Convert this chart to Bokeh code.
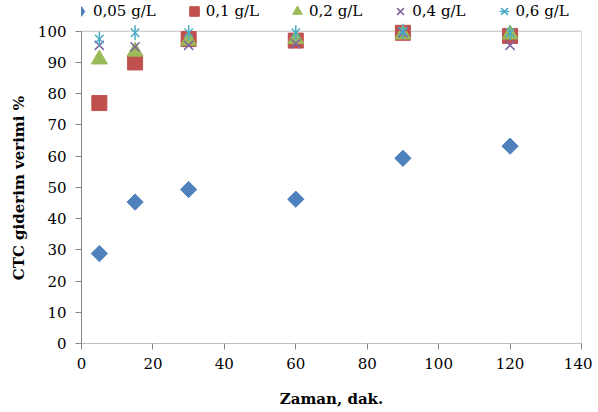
from bokeh.plotting import figure
from bokeh.models import Range1d, Legend, LegendItem, FixedTicker
from bokeh.embed import file_html
from bokeh.resources import INLINE
import math

time_min = [5, 15, 30, 60, 90, 120]
series_names = ["0,05 g/L", "0,1 g/L", "0,2 g/L", "0,4 g/L", "0,6 g/L"]
s005 = [28.8, 45.3, 49.3, 46.2, 59.3, 63.2]
s01 = [77.0, 90.0, 97.5, 97.0, 99.5, 98.5]
s02 = [91.0, 93.5, 97.0, 97.5, 99.0, 99.0]
s04 = [95.5, 95.0, 95.5, 96.0, 99.5, 95.5]
s06 = [97.5, 99.5, 99.5, 99.5, 100.0, 99.5]
x_ticks = [0, 20, 40, 60, 80, 100, 120, 140]
y_ticks = [0, 10, 20, 30, 40, 50, 60, 70, 80, 90, 100]
X_MIN, X_MAX = 0, 140
Y_MIN, Y_MAX = 0, 100

FONT = "DejaVu Serif"
BORDER = "#BFBFBF"
AXIS = "#868686"

# frame: left 81, right 581, bottom 346 (y=0), y=100 at 31; headroom above for the legend
W, H = 592, 410
top_pad = 1
y_top = Y_MAX * (346 - top_pad) / (346 - 31)

p = figure(width=W, height=H, output_backend="svg", toolbar_location=None,
           x_range=Range1d(X_MIN, X_MAX), y_range=Range1d(Y_MIN, y_top),
           min_border_left=81, min_border_right=W - 581, min_border_top=top_pad,
           min_border_bottom=H - 346)
p.xgrid.visible = False
p.ygrid.visible = False
p.outline_line_color = None

# plot-area border (top and right)
p.segment(x0=[X_MIN, X_MAX], y0=[Y_MAX, Y_MIN], x1=[X_MAX, X_MAX], y1=[Y_MAX, Y_MAX],
          line_color=BORDER, line_width=1)

r1 = p.scatter(time_min, s005, marker="square", size=11.5, angle=math.pi / 4,
               fill_color="#4F81BD", line_color="#4F81BD")
# legend key only (not drawn in the plot): a diamond shape for the legend swatch
r1_key = p.scatter(x=[float("nan")], y=[float("nan")], marker="diamond", size=14,
                   fill_color="#4F81BD", line_color="#4F81BD")
r2 = p.scatter(time_min, s01, marker="square", size=15, fill_color="#C0504D", line_color="#C0504D")
r3 = p.scatter(time_min, s02, marker="triangle", size=16, fill_color="#9BBB59", line_color="#9BBB59")
r4 = p.scatter(time_min, s04, marker="x", size=13, line_color="#8064A2", line_width=1.5)
r5a = p.scatter(time_min, s06, marker="x", size=12, line_color="#4BACC6", line_width=1.5)
r5b = p.scatter(time_min, s06, marker="dash", size=15, angle=math.pi / 2, line_color="#4BACC6", line_width=1.5)

legend = Legend(items=[
    LegendItem(label=series_names[0], renderers=[r1_key]),
    LegendItem(label=series_names[1], renderers=[r2]),
    LegendItem(label=series_names[2], renderers=[r3]),
    LegendItem(label=series_names[3], renderers=[r4]),
    LegendItem(label=series_names[4], renderers=[r5a, r5b]),
], orientation="horizontal", location=(-12, 320))
legend.label_text_font = FONT
legend.label_text_font_size = "15px"
legend.label_text_color = "black"
legend.glyph_width = 24
legend.glyph_height = 24
legend.label_standoff = 0
legend.spacing = 26
legend.padding = 0
legend.margin = 0
legend.border_line_color = None
legend.background_fill_alpha = 0
p.add_layout(legend, "center")

for ax in (p.xaxis[0], p.yaxis[0]):
    ax.major_tick_in = 0
    ax.major_tick_out = 6
    ax.minor_tick_line_color = None
    ax.major_label_text_font = FONT
    ax.major_label_text_font_size = "15px"
    ax.major_label_text_color = "black"
    ax.axis_label_text_font = FONT
    ax.axis_label_text_font_size = "15px"
    ax.axis_label_text_font_style = "bold"
    ax.axis_label_text_color = "black"

p.yaxis.axis_line_color = AXIS
p.yaxis.major_tick_line_color = AXIS
p.xaxis.axis_line_color = BORDER
p.xaxis.major_tick_line_color = AXIS
p.xaxis.bounds = (X_MIN, X_MAX)
p.yaxis.bounds = (Y_MIN, Y_MAX)
p.xaxis.ticker = FixedTicker(ticks=x_ticks)
p.yaxis.ticker = FixedTicker(ticks=y_ticks)
p.xaxis.axis_label = "Zaman, dak."
# trailing no-break spaces keep the label centred on the 0-100 span rather than the padded frame
p.yaxis.axis_label = "CTC giderim verimi %" + "\u00a0" * 6
p.xaxis.major_label_standoff = 8
p.yaxis.major_label_standoff = 9
p.xaxis.axis_label_standoff = 18
p.yaxis.axis_label_standoff = 7

open("out.html", "w").write(file_html(p, INLINE))
